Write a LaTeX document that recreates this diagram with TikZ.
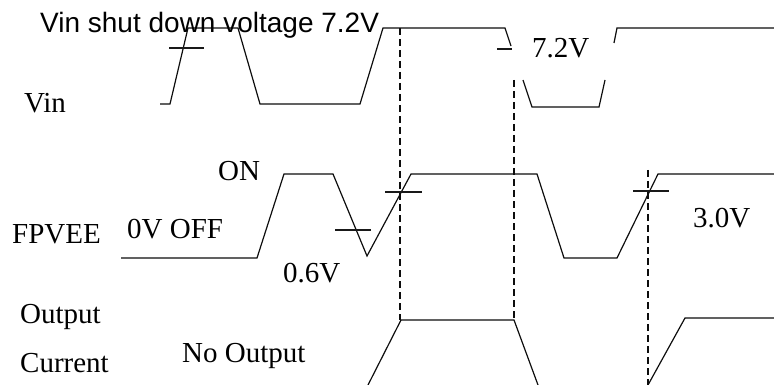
\documentclass[tikz,border=0pt]{standalone}
\usepackage{fontspec}
\setmainfont{Liberation Serif}
\newfontfamily\labelSans{Liberation Sans}
\usepackage{tikz}
\usetikzlibrary{calc, positioning}
\definecolor{mainBlack}{gray}{0.05}
\definecolor{subGray}{gray}{0.1}

\begin{document}
\begin{tikzpicture}[x=1pt, y=-1pt,
    wave/.style={line width=1.2pt, mainBlack, line join=miter},
    marker/.style={line width=1.2pt, subGray},
    guide/.style={line width=1.5pt, mainBlack, dash pattern=on 7pt off 4pt},
    lbl/.style={anchor=base west, inner sep=0pt, font=\fontsize{29}{31}\selectfont}]
    \useasboundingbox (0,0) rectangle (774,385);

    % Vin waveform
    \draw[wave] (160,104) -- (170,104) -- (188,28) -- (238,28) -- (260,104) -- (360,104) -- (383,28) -- (505,28) -- (511,46);
    \draw[wave] (523,80) -- (532,107) -- (599,107) -- (605,80);
    \draw[wave] (614,43) -- (617,28) -- (774,28);
    \draw[marker] (169,48) -- (204,48);
    \draw[marker] (497,49) -- (512,49);

    % FPVEE waveform
    \draw[wave] (121,258) -- (257,258) -- (284,174) -- (333,174) -- (367,256) -- (411,174) -- (537,174) -- (564,258) -- (617,258) -- (658,174) -- (774,174);
    \draw[marker] (335,230) -- (371,230);
    \draw[marker] (385,192) -- (422,192);
    \draw[marker] (633,191) -- (669,191);

    % Output current
    \draw[wave] (368,385) -- (401,320) -- (514,320) -- (538,385);
    \draw[wave] (648,385) -- (685,318) -- (774,318);

    % Dashed guides
    \draw[guide] (400,28) -- (400,320);
    \draw[guide] (514,80) -- (514,320);
    \draw[guide] (648,170) -- (648,385);

    % Labels
    \node[lbl, font=\labelSans\fontsize{28}{30}\selectfont] (shutdown) at (40,33) {Vin shut down voltage 7.2V};
    \node[lbl] (vin) at (24,113) {Vin};
    \node[lbl] (on) at (218,181) {ON};
    \node[lbl] (fpvee) at (12,243) {FPVEE};
    \node[lbl] (off) at (127,238) {0V OFF};
    \node[lbl] (low) at (283,282) {0.6V};
    \node[lbl] (vinlow) at (532,58) {7.2V};
    \node[lbl] (high) at (693,227) {3.0V};
    \node[lbl] (output) at (20,323) {Output};
    \node[lbl] (current) at (20,372) {Current};
    \node[lbl] (nooutput) at (182,362) {No Output};
\end{tikzpicture}
\end{document}
